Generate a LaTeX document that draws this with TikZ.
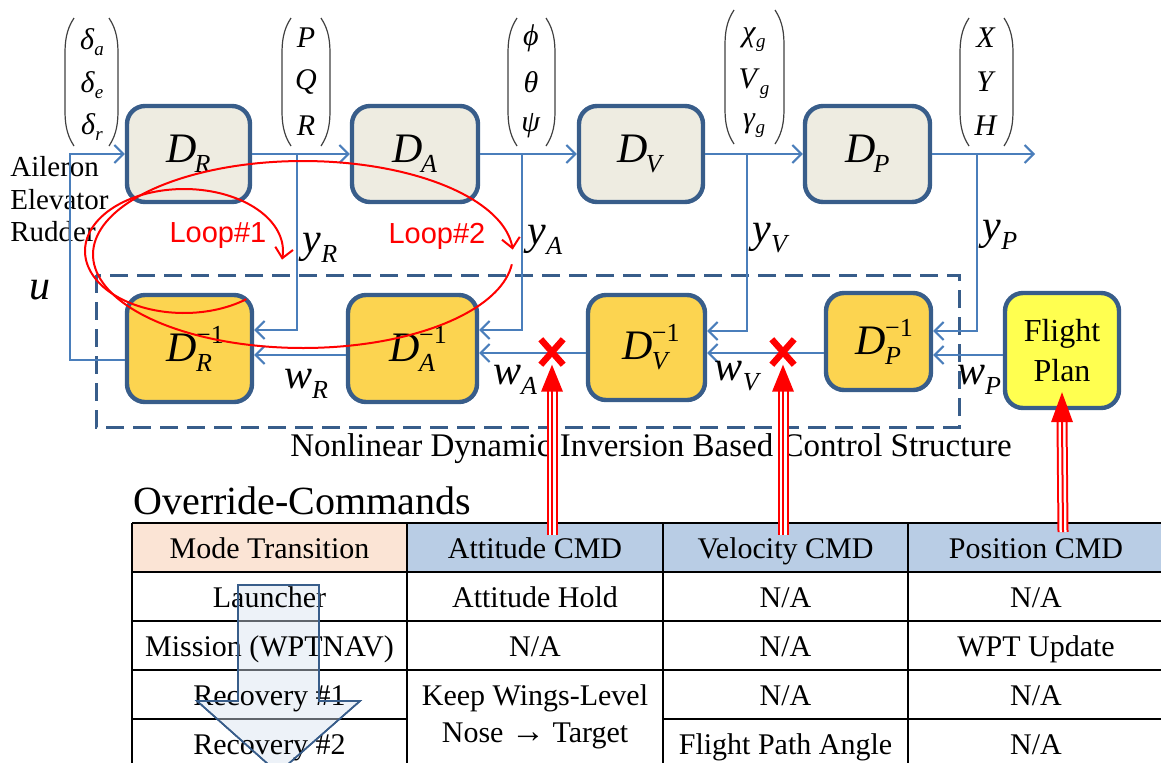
\documentclass[tikz,border=0pt]{standalone}
\usepackage{fontspec}
\setmainfont{Liberation Serif}
\newfontfamily\tms{Liberation Serif}
\newfontfamily\calib{Liberation Sans}
\usetikzlibrary{arrows.meta,shapes.misc}
\definecolor{bord}{RGB}{56,93,138}
\definecolor{conn}{RGB}{74,126,187}
\definecolor{beige}{RGB}{238,236,225}
\definecolor{gold}{RGB}{252,212,80}
\definecolor{fpyellow}{RGB}{255,255,80}
\definecolor{peach}{RGB}{251,228,213}
\definecolor{hblue}{RGB}{185,205,229}
\definecolor{arrfill}{RGB}{214,226,240}
\newcommand{\Dsub}[1]{\textit{D}\kern-1pt\raisebox{-5pt}{\fontsize{13}{13}\selectfont\textit{#1}}}
\newcommand{\Dinv}[1]{\textit{D}\kern-0.5pt{\fontsize{13}{13}\selectfont\rlap{\raisebox{9pt}{−1}}\raisebox{-5pt}{\textit{#1}}\hspace{6pt}}}
\newcommand{\vsb}[2]{\textit{#1}\raisebox{-3pt}{\fontsize{9.5}{9.5}\selectfont\textit{#2}}}
\newcommand{\lbsub}[2]{\textit{#1}\raisebox{-5pt}{\fontsize{13}{13}\selectfont\textit{#2}}}
\newcommand{\myLP}[3]{\draw[par] ({#1+9},{#2}) .. controls ({#1+1},{#2+12}) and ({#1},{#2+24}) .. ({#1},{#2+36}) -- ({#1},{#3-36}) .. controls ({#1},{#3-24}) and ({#1+1},{#3-12}) .. ({#1+9},{#3});}
\newcommand{\myRP}[3]{\draw[par] ({#1-9},{#2}) .. controls ({#1-1},{#2+12}) and ({#1},{#2+24}) .. ({#1},{#2+36}) -- ({#1},{#3-36}) .. controls ({#1},{#3-24}) and ({#1-1},{#3-12}) .. ({#1-9},{#3});}
\tikzset{
  blk/.style={draw=bord, line width=2.2pt, rounded corners=9pt, inner sep=0pt, font=\tms\fontsize{21}{21}\selectfont},
  fwd/.style={blk, fill=beige},
  inv/.style={blk, fill=gold},
  cn/.style={draw=conn, line width=1pt},
  arr/.style={cn, -{Straight Barb[length=4.5pt,width=9pt]}},
  lbl/.style={font=\tms\fontsize{21}{21}\selectfont, inner sep=0pt},
  mat/.style={font=\tms\fontsize{15}{15}\selectfont, inner sep=0pt},
  par/.style={draw=black!75, line width=0.6pt},
  txt/.style={font=\tms\fontsize{14.5}{14.5}\selectfont, inner sep=0pt},
  tbltxt/.style={font=\tms\fontsize{15}{15}\selectfont, inner sep=0pt, anchor=base},
  tbl/.style={draw=black, line width=0.9pt},
  loopc/.style={draw=red, line width=1pt, -{Straight Barb[length=5pt,width=9pt]}},
  looplbl/.style={font=\calib\fontsize{14.5}{14.5}\selectfont, text=red, inner sep=0pt},
  xmark/.style={cross out, draw=red, line width=3.2pt, minimum width=8pt, minimum height=9.5pt, inner sep=0pt},
  rshaft/.style={draw=red, line width=1pt, preaction={draw=white, line width=3.5pt, preaction={draw=red, line width=5.5pt}}},
}
\begin{document}
\begin{tikzpicture}[x=0.5pt,y=-0.5pt,font=\tms]
\useasboundingbox (0,0) rectangle (1161,762);
\clip (0,0) rectangle (1161,762);

% table
\node[font=\tms\fontsize{20}{20}\selectfont, inner sep=0pt, anchor=base west] (ttl) at (133,514) {Override-Commands};
\fill[peach] (132,523) rectangle (407,572);
\fill[hblue] (407,523) rectangle (1170,572);
\draw[tbl] (132,523) -- (1170,523);
\draw[tbl] (132,572) -- (1170,572);
\draw[tbl] (132,621) -- (1170,621);
\draw[tbl] (132,670) -- (1170,670);
\draw[tbl] (132,719) -- (407,719);
\draw[tbl] (663,719) -- (1170,719);
\foreach \xx in {132,407,663,908} {\draw[tbl] (\xx,523) -- (\xx,790);}
\draw[bord, line width=0.8pt, fill=arrfill, fill opacity=0.45] (238,585) -- (319,585) -- (319,701) -- (360,701) -- (278,773) -- (197,701) -- (238,701) -- cycle;
\node[tbltxt] (h1) at (269.5,558) {Mode Transition};
\node[tbltxt] (h2) at (535,558) {Attitude CMD};
\node[tbltxt] (h3) at (785.5,558) {Velocity CMD};
\node[tbltxt] (h4) at (1036,558) {Position CMD};
\node[tbltxt] (r1a) at (269.5,607) {Launcher};
\node[tbltxt] (r1b) at (535,607) {Attitude Hold};
\node[tbltxt] (r1c) at (785.5,607) {N/A};
\node[tbltxt] (r1d) at (1036,607) {N/A};
\node[tbltxt] (r2a) at (269.5,656) {Mission (WPTNAV)};
\node[tbltxt] (r2b) at (535,656) {N/A};
\node[tbltxt] (r2c) at (785.5,656) {N/A};
\node[tbltxt] (r2d) at (1036,656) {WPT Update};
\node[tbltxt] (r3a) at (269.5,705) {Recovery \#1};
\node[tbltxt] (r3b) at (535,705) {Keep Wings-Level};
\node[tbltxt] (r3c) at (785.5,705) {N/A};
\node[tbltxt] (r3d) at (1036,705) {N/A};
\node[tbltxt] (r4a) at (269.5,754) {Recovery \#2};
\node[tbltxt] (r4b) at (535,742) {Nose \fontsize{17}{17}\selectfont→\fontsize{15}{15}\selectfont{} Target};
\node[tbltxt] (r4c) at (785.5,754) {Flight Path Angle};
\node[tbltxt] (r4d) at (1036,754) {N/A};
\draw[bord, line width=0.8pt] (238,585) -- (319,585) -- (319,701) -- (360,701) -- (278,773) -- (197,701) -- (238,701) -- cycle;

% caption
\node[font=\tms\fontsize{16.5}{16.5}\selectfont, inner sep=0pt] (cap) at (651,449) {Nonlinear Dynamic Inversion Based Control Structure};

% dashed frame
\draw[bord, line width=1.5pt, dash pattern=on 9pt off 4.5pt] (96,275) rectangle (959,427);

% forward blocks
\node[fwd, minimum width=61.5pt, minimum height=48pt] (DR) at (188.5,154) {\Dsub{R}};
\node[fwd, minimum width=63pt, minimum height=48pt] (DA) at (415,154) {\Dsub{A}};
\node[fwd, minimum width=62pt, minimum height=48pt] (DV) at (641,154) {\Dsub{V}};
\node[fwd, minimum width=62.5pt, minimum height=48pt] (DP) at (867.5,154) {\Dsub{P}};
% inverse blocks
\node[inv, minimum width=62.5pt, minimum height=53.5pt] (DRi) at (189.5,348.5) {\Dinv{R}};
\node[inv, minimum width=64.5pt, minimum height=53.5pt] (DAi) at (412.5,348.5) {\Dinv{A}};
\node[inv, minimum width=58.5pt, minimum height=52.5pt] (DVi) at (646.5,347.5) {\Dinv{V}};
\node[inv, minimum width=52.5pt, minimum height=48.5pt] (DPi) at (878.5,341.5) {\Dinv{P}};
\node[blk, fill=fpyellow, minimum width=57pt, minimum height=57.5pt, align=center, font=\tms\fontsize{16}{20}\selectfont] (FP) at (1062,350.5) {Flight\\Plan};

% parentheses vectors
\myLP{65}{18}{146}\myRP{118}{18}{146}
\node[mat] (da) at (92,42) {\vsb{δ}{a}};
\node[mat] (de) at (92,85) {\vsb{δ}{e}};
\node[mat] (dr) at (92,127) {\vsb{δ}{r}};
\myLP{282}{18}{146}\myRP{330}{18}{146}
\node[mat] (vP) at (306,38) {\textit{P}};
\node[mat] (vQ) at (306,82) {\textit{Q}};
\node[mat] (vR) at (306,126) {\textit{R}};
\myLP{508}{18}{146}\myRP{555}{18}{146}
\node[mat] (vphi) at (531,38) {\textit{ϕ}};
\node[mat] (vth) at (531,82) {\textit{θ}};
\node[mat] (vpsi) at (531,126) {\textit{ψ}};
\myLP{725}{10}{144}\myRP{784}{10}{144}
\node[mat] (vchi) at (754,40) {\vsb{χ}{g}};
\node[mat] (vVg) at (754,84) {\vsb{V}{g}};
\node[mat] (vgam) at (754,126) {\vsb{γ}{g}};
\myLP{960}{18}{146}\myRP{1013}{18}{146}
\node[mat] (vX) at (986,38) {\textit{X}};
\node[mat] (vY) at (986,82) {\textit{Y}};
\node[mat] (vH) at (986,126) {\textit{H}};

% left texts
\node[txt, anchor=west] (ail) at (10,167) {Aileron};
\node[txt, anchor=west] (ele) at (10,200) {Elevator};
\node[txt, anchor=west] (rud) at (10,232) {Rudder};
\node[lbl] (uu) at (40,290) {\textit{u}};

% connectors forward
\coordinate (jR) at (297,154);
\coordinate (jA) at (522,154);
\coordinate (jV) at (747,154);
\coordinate (jP) at (977,154);
\coordinate (outP) at (1035,154);
\coordinate (uc) at (70,154);
\draw[arr] (DR.east) -- (DA.west);
\draw[arr] (DA.east) -- (DV.west);
\draw[arr] (DV.east) -- (DP.west);
\draw[arr] (DP.east) -- (outP);
\draw[arr] (jR) |- (DRi.east |- 0,330);
\draw[arr] (jA) |- (DAi.east |- 0,330);
\draw[arr] (jV) |- (DVi.east |- 0,331);
\draw[arr] (jP) |- (DPi.east |- 0,331);
% connectors backward
\draw[arr] (FP.west |- 0,355) -- (DPi.east |- 0,355);
\draw[arr] (DPi.west |- 0,353) -- (DVi.east |- 0,353);
\draw[arr] (DVi.west |- 0,353) -- (DAi.east |- 0,353);
\draw[arr] (DAi.west |- 0,355) -- (DRi.east |- 0,355);
\draw[arr] (DRi.west |- 0,360) -| (uc) -- (DR.west);

% signal labels
\node[lbl] (yR) at (320,248) {\lbsub{y}{R}};
\node[lbl] (yA) at (545,240) {\lbsub{y}{A}};
\node[lbl] (yV) at (771,238) {\lbsub{y}{V}};
\node[lbl] (yP) at (1000,235) {\lbsub{y}{P}};
\node[lbl] (wR) at (306,384) {\lbsub{w}{R}};
\node[lbl] (wA) at (515,380) {\lbsub{w}{A}};
\node[lbl] (wV) at (738,376) {\lbsub{w}{V}};
\node[lbl] (wP) at (979,380) {\lbsub{w}{P}};

% loops
\draw[loopc] plot[domain=51:368, samples=120] ({184+99*cos(\x)},{251+62*sin(\x)});
\draw[loopc] plot[domain=6:357, samples=160] ({303+210*cos(\x)},{254.5+93.5*sin(\x)});
\node[looplbl] (L1) at (218,236) {Loop\#1};
\node[looplbl] (L2) at (437,236) {Loop\#2};

% override markers and arrows
\node[xmark] (xA) at (552,352) {};
\node[xmark] (xV) at (783,352) {};
\coordinate (bA) at (552,535);
\coordinate (bV) at (783,535);
\coordinate (bP) at (1063,532);
\coordinate (tP) at ([yshift=9pt]FP.south);
\draw[rshaft] (bA) -- ([yshift=-13pt]xA.south);
\fill[red] ([xshift=-5.5pt,yshift=-13.5pt]xA.south) -- ([xshift=5.5pt,yshift=-13.5pt]xA.south) -- (xA.south) -- cycle;
\draw[rshaft] (bV) -- ([yshift=-13pt]xV.south);
\fill[red] ([xshift=-5.5pt,yshift=-13.5pt]xV.south) -- ([xshift=5.5pt,yshift=-13.5pt]xV.south) -- (xV.south) -- cycle;
\draw[rshaft] (bP) -- ([yshift=-14.5pt]tP);
\fill[red] ([xshift=-5.5pt,yshift=-15pt]tP) -- ([xshift=5.5pt,yshift=-15pt]tP) -- (tP) -- cycle;
\end{tikzpicture}
\end{document}
